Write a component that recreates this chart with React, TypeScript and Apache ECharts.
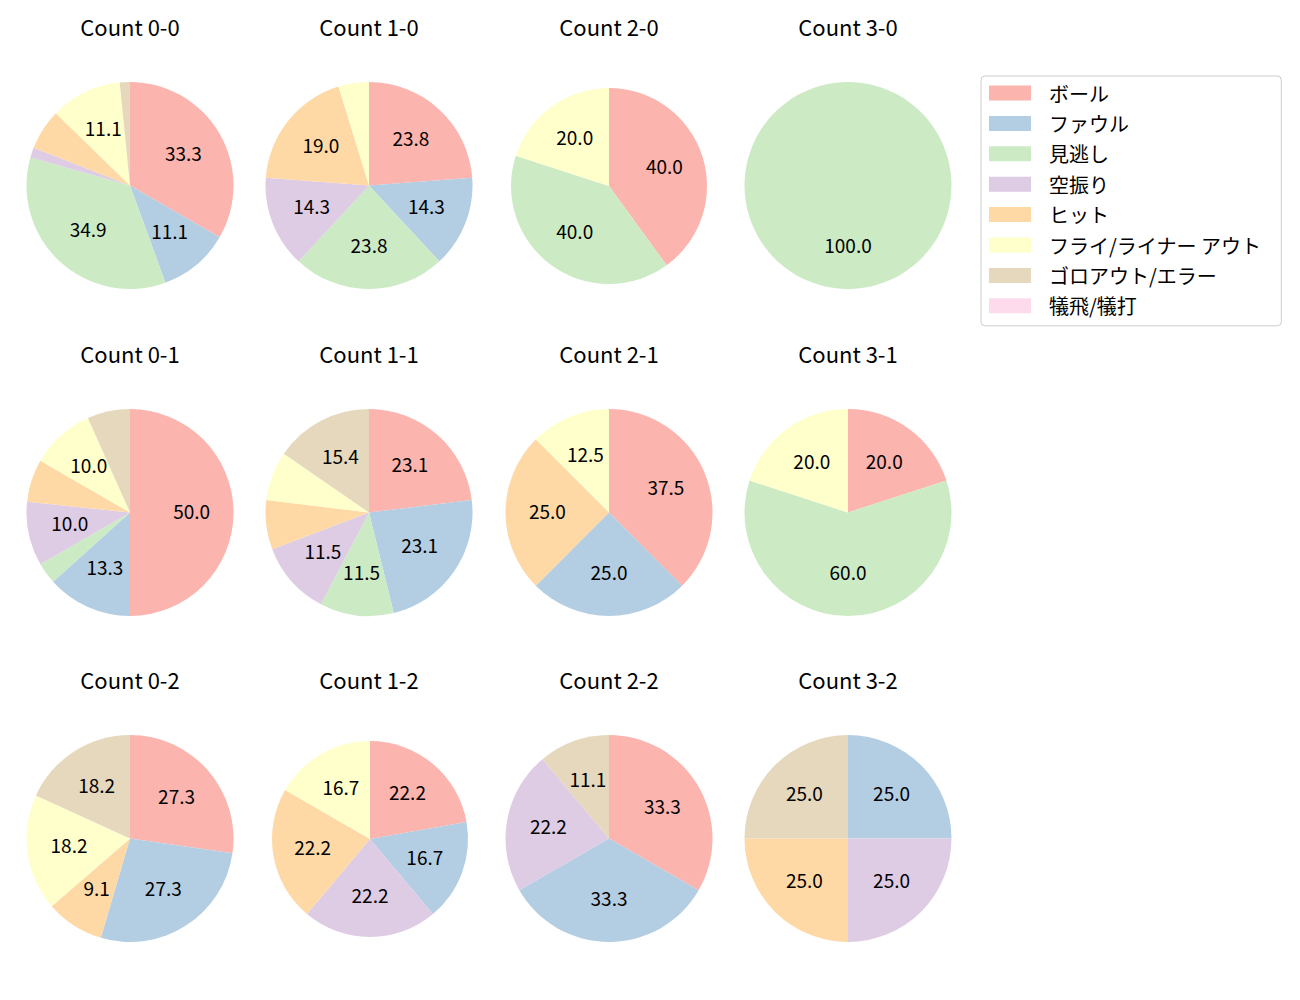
import React, { useEffect, useRef } from "react";
import * as echarts from "echarts";

const categories = [
  "ボール",
  "ファウル",
  "見逃し",
  "空振り",
  "ヒット",
  "フライ/ライナー アウト",
  "ゴロアウト/エラー",
  "犠飛/犠打",
];
const palette = ["#fbb4ae", "#b3cde3", "#ccebc5", "#decbe4", "#fed9a6", "#ffffcc", "#e5d8bd", "#fddaec"];

const titles = [
  "Count 0-0", "Count 1-0", "Count 2-0", "Count 3-0",
  "Count 0-1", "Count 1-1", "Count 2-1", "Count 3-1",
  "Count 0-2", "Count 1-2", "Count 2-2", "Count 3-2",
];

// pitch counts per category (order = categories)
const count00 = [21, 7, 22, 1, 4, 7, 1, 0];
const count10 = [5, 3, 5, 3, 4, 1, 0, 0];
const count20 = [2, 0, 2, 0, 0, 1, 0, 0];
const count30 = [0, 0, 1, 0, 0, 0, 0, 0];
const count01 = [15, 4, 1, 3, 2, 3, 2, 0];
const count11 = [6, 6, 3, 3, 2, 2, 4, 0];
const count21 = [3, 2, 0, 0, 2, 1, 0, 0];
const count31 = [1, 0, 3, 0, 0, 1, 0, 0];
const count02 = [3, 3, 0, 0, 1, 2, 2, 0];
const count12 = [4, 3, 0, 4, 4, 3, 0, 0];
const count22 = [3, 3, 0, 2, 0, 0, 1, 0];
const count32 = [0, 1, 0, 1, 1, 0, 1, 0];

const allCounts = [
  count00, count10, count20, count30,
  count01, count11, count21, count31,
  count02, count12, count22, count32,
];

// layout
const colX = [130, 369, 609, 848];
const rowY = [185.5, 512.5, 838.5];
const titleY = [26, 353, 679];
const radii = [103.5, 103.5, 98, 103.5, 103.5, 103.5, 103.5, 103.5, 103.5, 98, 103.5, 103.5];
const centerAdj = [[0, 0], [0, 0], [0, 0.5], [0, 0], [0, 0], [0, 0], [0, 0], [0, 0], [0, 0], [1, 0.5], [0, 0], [0, 0]];
const labelShiftY = -2.5;

const FONT = '"Noto Sans CJK JP", "Noto Sans", sans-serif';
const LABEL_MIN_PCT = 8;

export default function App() {
  const ref = useRef<HTMLDivElement>(null);
  useEffect(() => {
    document.body.style.margin = "0";
    const chart = echarts.init(ref.current!, null, { renderer: "svg" });

    const baseSeries: any[] = [];
    const labelSeries: any[] = [];
    allCounts.forEach((counts, i) => {
      const cx = colX[i % 4] + centerAdj[i][0];
      const cy = rowY[Math.floor(i / 4)] + centerAdj[i][1];
      const r = radii[i];
      const total = counts.reduce((a, b) => a + b, 0);
      baseSeries.push({
        type: "pie",
        center: [cx, cy],
        radius: [0, r],
        startAngle: 90,
        clockwise: true,
        silent: true,
        label: { show: false },
        labelLine: { show: false },
        emphasis: { disabled: true },
        itemStyle: { borderWidth: 0 },
        data: categories.map((c, k) => ({
          name: c,
          value: counts[k],
          itemStyle: { color: palette[k] },
        })),
      });
      labelSeries.push({
        type: "pie",
        center: [cx, cy + labelShiftY],
        radius: [r * 0.2 - 7, r],
        startAngle: 90,
        clockwise: true,
        silent: true,
        avoidLabelOverlap: false,
        emphasis: { disabled: true },
        labelLine: { show: false },
        itemStyle: { color: "rgba(0,0,0,0)", borderWidth: 0 },
        label: {
          show: true,
          position: "inside",
          fontSize: 19,
          fontFamily: FONT,
          color: "#000",
          formatter: (p: any) => {
            const pct = (p.value / total) * 100;
            return pct >= LABEL_MIN_PCT ? pct.toFixed(1) : "";
          },
        },
        data: categories
          .map((c, k) => ({ name: c, value: counts[k] }))
          .filter((d) => d.value > 0),
      });
    });

    chart.setOption({
      animation: false,
      backgroundColor: "#fff",
      legend: {
        data: categories,
        orient: "vertical",
        left: 981,
        top: 76,
        padding: [7, 20, 10, 8],
        itemWidth: 42,
        itemHeight: 15,
        itemGap: 10.4,
        icon: "rect",
        selectedMode: false,
        borderColor: "#cccccc",
        borderWidth: 1,
        borderRadius: 4,
        backgroundColor: "#fff",
        textStyle: {
          fontSize: 20,
          lineHeight: 20,
          fontFamily: FONT,
          color: "#000",
          padding: [0, 0, 0, 13],
        },
      },
      graphic: titles.map((t, i) => ({
        type: "text",
        x: colX[i % 4],
        y: titleY[Math.floor(i / 4)],
        style: {
          text: t,
          align: "center",
          verticalAlign: "middle",
          fontSize: 22,
          fontFamily: FONT,
          fill: "#000",
        },
      })),
      series: [...baseSeries, ...labelSeries],
    });
    return () => chart.dispose();
  }, []);
  return <div ref={ref} style={{ width: 1300, height: 1000 }} />;
}
